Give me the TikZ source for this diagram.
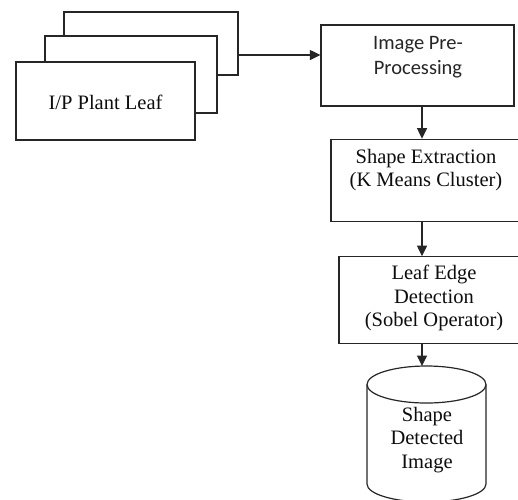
\documentclass[tikz,border=0pt]{standalone}
\usepackage{fontspec}
\setmainfont{Liberation Serif}
\newfontfamily\calib{Carlito}
\usetikzlibrary{arrows.meta}
\begin{document}
\begin{tikzpicture}[x=1pt,y=-1pt,
  box/.style={draw=black!85, line width=1.2pt, fill=white, rectangle, inner sep=0pt},
  serif/.style={font=\fontsize{20.5}{23.5}\selectfont, align=center, inner sep=0pt, text=black!95},
  sans/.style={font=\calib\fontsize{20.5}{25}\selectfont, align=center, inner sep=0pt, text=black!85},
  conn/.style={draw=black!85, line width=1.2pt, -{Triangle[length=10.5pt,width=10pt]}}]
\useasboundingbox (0,0) rectangle (518,499);
\clip (0,0) rectangle (518,499);
% stacked input boxes
\node[box, minimum width=174pt, minimum height=63pt] (back) at (151,43.5) {};
\node[box, minimum width=172pt, minimum height=77pt] (mid) at (131,74.5) {};
\node[box, minimum width=179pt, minimum height=78pt] (front) at (105.5,101) {};
\node[serif] (ip) at (105.5,102) {I/P Plant Leaf};
% pre-processing
\node[box, minimum width=193pt, minimum height=81pt] (pre) at (417.5,65.5) {};
\node[sans] (pret) at (418,57) {Image Pre-\\Processing};
% shape extraction
\node[box, minimum width=190pt, minimum height=82pt] (shape) at (426,180.25) {};
\node[serif] (shapet) at (426,170) {Shape Extraction\\(K Means Cluster)};
% leaf edge
\node[box, minimum width=190pt, minimum height=86.5pt] (edge) at (434,300) {};
\node[serif] (edget) at (434,298) {Leaf Edge\\Detection\\(Sobel Operator)};
% cylinder
\coordinate (cyltop) at (426.5,366);
\draw[draw=black!85, line width=1.2pt, fill=white]
  (367,384.5) -- (367,484) arc (180:360:59.5pt and 18pt) -- (486,384.5);
\draw[draw=black!85, line width=1.2pt] (426.5,384.5) ellipse (59.5pt and 18.5pt);
\node[serif] (db) at (427,440) {Shape\\Detected\\Image};
% connectors
\coordinate (a1) at (238,55);
\draw[conn] (a1) -- (a1 -| pre.west);
\coordinate (a2) at (422,106);
\draw[conn] (a2) -- (a2 |- shape.north);
\coordinate (a3) at (422,221.25);
\draw[conn] (a3) -- (a3 |- edge.north);
\coordinate (a4) at (422,343.25);
\draw[conn] (a4) -- (a4 |- cyltop);
\end{tikzpicture}
\end{document}
